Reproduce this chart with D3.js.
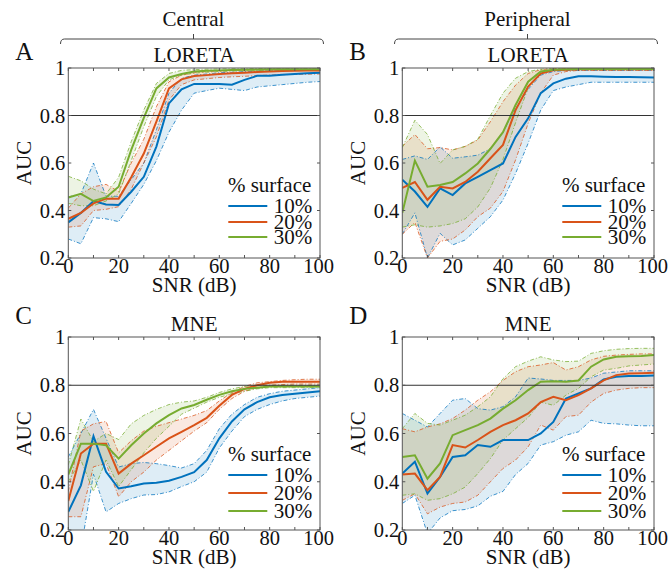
<!DOCTYPE html>
<html>
<head>
<meta charset="utf-8">
<script src="https://cdn.jsdelivr.net/npm/d3@7"></script>
<style>
  body { margin: 0; background: #fff; }
</style>
</head>
<body>
<div id="chart"></div>
<script>
// SNR sampled every 5 dB
const snr = d3.range(0, 101, 5);
const groups = ["10%", "20%", "30%"];
const colors = ["#0072BD", "#D95319", "#77AC30"];
const xTicks = d3.range(0, 101, 10);
const xLabels = [0, 20, 40, 60, 80, 100];
const yTicks = [0.2, 0.4, 0.6, 0.8, 1];

// A: LORETA central
const a10 = [0.35,0.39,0.44,0.425,0.423,0.479,0.542,0.669,0.851,0.91,0.933,0.933,0.933,0.93,0.95,0.967,0.967,0.972,0.975,0.978,0.98];
const a10lo = [0.28,0.26,0.37,0.365,0.353,0.43,0.51,0.61,0.73,0.823,0.894,0.905,0.915,0.91,0.905,0.92,0.925,0.93,0.935,0.94,0.943];
const a10hi = [0.457,0.47,0.6,0.46,0.46,0.53,0.6,0.74,0.894,0.957,0.97,0.975,0.98,0.982,0.985,0.987,0.988,0.989,0.99,0.99,0.99];
const a20 = [0.365,0.39,0.43,0.45,0.45,0.54,0.64,0.774,0.914,0.952,0.966,0.97,0.975,0.978,0.98,0.983,0.985,0.987,0.988,0.989,0.99];
const a20lo = [0.33,0.335,0.4,0.405,0.416,0.49,0.6,0.71,0.865,0.93,0.95,0.955,0.96,0.963,0.965,0.968,0.97,0.972,0.973,0.974,0.975];
const a20hi = [0.41,0.47,0.5,0.51,0.48,0.6,0.7,0.837,0.942,0.97,0.98,0.985,0.988,0.99,0.992,0.993,0.994,0.995,0.995,0.995,0.995];
const a30 = [0.455,0.47,0.44,0.455,0.5,0.655,0.79,0.914,0.96,0.975,0.985,0.988,0.99,0.992,0.993,0.994,0.995,0.995,0.995,0.995,0.995];
const a30lo = [0.43,0.42,0.42,0.44,0.47,0.61,0.753,0.88,0.95,0.97,0.978,0.982,0.985,0.987,0.988,0.989,0.99,0.99,0.99,0.99,0.99];
const a30hi = [0.544,0.525,0.49,0.47,0.54,0.69,0.823,0.935,0.977,0.99,0.993,0.995,0.996,0.997,0.997,0.998,0.998,0.998,0.998,0.998,0.998];

// B: LORETA peripheral
const b10 = [0.53,0.48,0.415,0.493,0.465,0.514,0.542,0.57,0.598,0.71,0.788,0.894,0.935,0.955,0.965,0.965,0.963,0.962,0.962,0.961,0.96];
const b10lo = [0.3,0.39,0.2,0.304,0.255,0.276,0.325,0.374,0.444,0.556,0.683,0.823,0.905,0.92,0.93,0.94,0.94,0.94,0.94,0.94,0.94];
const b10hi = [0.615,0.63,0.615,0.668,0.62,0.626,0.633,0.66,0.73,0.83,0.91,0.97,0.985,0.99,0.99,0.99,0.99,0.99,0.99,0.99,0.99];
const b20 = [0.495,0.52,0.445,0.5,0.493,0.52,0.563,0.62,0.676,0.823,0.922,0.977,0.99,0.993,0.995,0.995,0.995,0.995,0.995,0.995,0.995];
const b20lo = [0.3,0.35,0.2,0.27,0.28,0.318,0.374,0.41,0.48,0.613,0.767,0.894,0.97,0.985,0.99,0.99,0.99,0.99,0.99,0.99,0.99];
const b20hi = [0.67,0.72,0.66,0.665,0.655,0.67,0.697,0.774,0.858,0.928,0.977,0.993,0.998,0.998,0.998,0.998,0.998,0.998,0.998,0.998,0.998];
const b30 = [0.39,0.61,0.5,0.507,0.52,0.556,0.598,0.66,0.73,0.844,0.942,0.985,0.993,0.995,0.996,0.996,0.996,0.996,0.996,0.996,0.996];
const b30lo = [0.33,0.34,0.33,0.335,0.345,0.365,0.415,0.495,0.615,0.77,0.917,0.975,0.99,0.992,0.993,0.993,0.993,0.993,0.993,0.993,0.993];
const b30hi = [0.665,0.78,0.72,0.598,0.655,0.67,0.7,0.8,0.894,0.957,0.985,0.995,0.998,0.999,0.999,0.999,0.999,0.999,0.999,0.999,0.999];

// C: MNE central
const c10 = [0.275,0.385,0.589,0.441,0.372,0.381,0.393,0.396,0.404,0.42,0.44,0.49,0.58,0.65,0.7,0.73,0.75,0.76,0.765,0.77,0.775];
const c10lo = [0.206,0.12,0.431,0.275,0.31,0.33,0.345,0.347,0.358,0.38,0.4,0.44,0.54,0.61,0.67,0.7,0.72,0.735,0.745,0.75,0.755];
const c10hi = [0.503,0.6,0.7,0.58,0.461,0.475,0.48,0.475,0.467,0.457,0.475,0.53,0.62,0.68,0.72,0.75,0.765,0.775,0.78,0.785,0.79];
const c20 = [0.32,0.517,0.558,0.558,0.434,0.475,0.51,0.545,0.58,0.607,0.635,0.665,0.715,0.76,0.785,0.8,0.81,0.815,0.815,0.815,0.815];
const c20lo = [0.255,0.255,0.462,0.475,0.338,0.4,0.44,0.49,0.53,0.57,0.61,0.645,0.7,0.745,0.775,0.79,0.8,0.803,0.805,0.805,0.805];
const c20hi = [0.36,0.61,0.64,0.65,0.52,0.57,0.61,0.63,0.645,0.66,0.675,0.695,0.735,0.77,0.795,0.81,0.815,0.82,0.823,0.825,0.825];
const c30 = [0.43,0.558,0.558,0.551,0.496,0.551,0.6,0.642,0.676,0.704,0.718,0.74,0.76,0.775,0.785,0.79,0.795,0.795,0.795,0.795,0.795];
const c30lo = [0.4,0.49,0.36,0.49,0.38,0.45,0.52,0.58,0.63,0.68,0.705,0.73,0.75,0.765,0.775,0.785,0.79,0.79,0.79,0.79,0.79];
const c30hi = [0.47,0.66,0.567,0.6,0.575,0.64,0.675,0.7,0.72,0.73,0.735,0.75,0.77,0.785,0.795,0.8,0.8,0.8,0.8,0.8,0.8];

// D: MNE peripheral
const d10 = [0.434,0.483,0.351,0.42,0.503,0.51,0.552,0.545,0.573,0.573,0.573,0.6,0.648,0.745,0.766,0.787,0.824,0.835,0.838,0.838,0.84];
const d10lo = [0.31,0.344,0.185,0.25,0.28,0.285,0.3,0.34,0.36,0.43,0.476,0.552,0.566,0.593,0.607,0.655,0.642,0.64,0.635,0.632,0.632];
const d10hi = [0.683,0.655,0.627,0.683,0.738,0.745,0.703,0.697,0.711,0.752,0.83,0.826,0.82,0.82,0.82,0.83,0.85,0.855,0.86,0.86,0.86];
const d20 = [0.43,0.434,0.365,0.42,0.552,0.542,0.573,0.607,0.635,0.655,0.683,0.73,0.752,0.738,0.759,0.787,0.82,0.842,0.849,0.85,0.852];
const d20lo = [0.323,0.35,0.267,0.295,0.31,0.316,0.344,0.4,0.455,0.49,0.545,0.635,0.614,0.67,0.676,0.73,0.766,0.78,0.787,0.79,0.79];
const d20hi = [0.62,0.607,0.627,0.64,0.662,0.697,0.738,0.773,0.82,0.856,0.877,0.884,0.894,0.863,0.877,0.905,0.92,0.925,0.928,0.93,0.93];
const d30 = [0.503,0.51,0.413,0.476,0.593,0.614,0.635,0.662,0.703,0.738,0.78,0.815,0.817,0.815,0.82,0.877,0.907,0.918,0.92,0.921,0.925];
const d30lo = [0.344,0.35,0.323,0.33,0.35,0.378,0.434,0.496,0.573,0.62,0.666,0.73,0.717,0.759,0.787,0.835,0.863,0.87,0.88,0.884,0.888];
const d30hi = [0.62,0.683,0.642,0.635,0.655,0.676,0.711,0.752,0.827,0.877,0.9,0.918,0.905,0.898,0.9,0.932,0.943,0.949,0.952,0.953,0.953];

const panels = [
  { letter: "A", title: "LORETA", left: 68.3, top: 68, bottom: 258, letterY: 60, mean: [a10, a20, a30], lo: [a10lo, a20lo, a30lo], hi: [a10hi, a20hi, a30hi], legY: [192, 206, 222, 237] },
  { letter: "B", title: "LORETA", left: 402.3, top: 68, bottom: 258, letterY: 60, mean: [b10, b20, b30], lo: [b10lo, b20lo, b30lo], hi: [b10hi, b20hi, b30hi], legY: [192, 206, 222, 237] },
  { letter: "C", title: "MNE", left: 68.3, top: 337, bottom: 530, letterY: 324, mean: [c10, c20, c30], lo: [c10lo, c20lo, c30lo], hi: [c10hi, c20hi, c30hi], legY: [461, 475, 493, 511] },
  { letter: "D", title: "MNE", left: 402.3, top: 337, bottom: 530, letterY: 324, mean: [d10, d20, d30], lo: [d10lo, d20lo, d30lo], hi: [d10hi, d20hi, d30hi], legY: [461, 475, 493, 511] }
];
const plotW = 251.7;
const serif = "'Liberation Serif', 'Times New Roman', Times, serif";

const svg = d3.select("#chart").append("svg")
  .attr("width", 668)
  .attr("height", 571)
  .attr("font-family", serif)
  .style("font-family", serif);

function label(sel, size) {
  return sel.attr("font-family", serif)
    .style("font-family", serif)
    .style("font-size", size + "px")
    .attr("fill", "#111");
}

// column headers with brackets
[{ label: "Central", cx: 193.5 }, { label: "Peripheral", cx: 527.5 }].forEach(h => {
  label(svg.append("text"), 21)
    .attr("x", h.cx).attr("y", 26)
    .attr("text-anchor", "middle")
    .text(h.label);
  const x0 = h.cx - 133, x1 = h.cx + 130;
  svg.append("path")
    .attr("d", `M${x0},44 Q${x0},39 ${x0 + 4},39 L${x1 - 4},39 Q${x1},39 ${x1},44 M${h.cx},39 L${h.cx},34`)
    .attr("fill", "none")
    .attr("stroke", "#444")
    .attr("stroke-width", 1);
});

panels.forEach((p, pi) => {
  const x = d3.scaleLinear().domain([0, 100]).range([p.left, p.left + plotW]);
  const y = d3.scaleLinear().domain([0.2, 1]).range([p.bottom, p.top]);
  const cx = p.left + plotW / 2;
  const g = svg.append("g");

  const clipId = "clip" + pi;
  svg.append("clipPath").attr("id", clipId)
    .append("rect")
    .attr("x", p.left).attr("y", p.top)
    .attr("width", plotW).attr("height", p.bottom - p.top);

  const plot = g.append("g").attr("clip-path", `url(#${clipId})`);

  const area = d3.area()
    .x((d, i) => x(snr[i]))
    .y0(d => y(d[0]))
    .y1(d => y(d[1]));
  const line = d3.line()
    .x((d, i) => x(snr[i]))
    .y(d => y(d));

  // shaded bands
  groups.forEach((grp, k) => {
    const band = p.lo[k].map((v, i) => [v, p.hi[k][i]]);
    plot.append("path")
      .attr("d", area(band))
      .attr("fill", colors[k])
      .attr("fill-opacity", 0.13)
      .attr("stroke", "none");
  });
  // dash-dot band edges
  groups.forEach((grp, k) => {
    [p.lo[k], p.hi[k]].forEach(arr => {
      plot.append("path")
        .attr("d", line(arr))
        .attr("fill", "none")
        .attr("stroke", colors[k])
        .attr("stroke-opacity", 0.75)
        .attr("stroke-width", 1)
        .attr("stroke-dasharray", "4,2,1,2");
    });
  });

  // 0.8 reference line
  g.append("line")
    .attr("x1", x(0)).attr("x2", x(100))
    .attr("y1", y(0.8)).attr("y2", y(0.8))
    .attr("stroke", "#333")
    .attr("stroke-width", 1);

  // mean lines
  groups.forEach((grp, k) => {
    plot.append("path")
      .attr("d", line(p.mean[k]))
      .attr("fill", "none")
      .attr("stroke", colors[k])
      .attr("stroke-width", 2);
  });

  // box and inward ticks
  g.append("rect")
    .attr("x", p.left).attr("y", p.top)
    .attr("width", plotW).attr("height", p.bottom - p.top)
    .attr("fill", "none")
    .attr("stroke", "#555")
    .attr("stroke-width", 1);
  xTicks.forEach(t => {
    g.append("line").attr("x1", x(t)).attr("x2", x(t))
      .attr("y1", p.bottom).attr("y2", p.bottom - 3).attr("stroke", "#555");
    g.append("line").attr("x1", x(t)).attr("x2", x(t))
      .attr("y1", p.top).attr("y2", p.top + 3).attr("stroke", "#555");
  });
  yTicks.forEach(t => {
    g.append("line").attr("x1", p.left).attr("x2", p.left + 3)
      .attr("y1", y(t)).attr("y2", y(t)).attr("stroke", "#555");
    g.append("line").attr("x1", p.left + plotW).attr("x2", p.left + plotW - 3)
      .attr("y1", y(t)).attr("y2", y(t)).attr("stroke", "#555");
  });

  // tick labels
  xLabels.forEach(d => {
    label(g.append("text"), 20.5)
      .attr("x", x(d) - (d === 100 ? 1.5 : 0)).attr("y", p.bottom + 15)
      .attr("text-anchor", "middle")
      .text(d);
  });
  yTicks.forEach(d => {
    label(g.append("text"), 20.5)
      .attr("x", p.left - 3).attr("y", y(d) + 7)
      .attr("text-anchor", "end")
      .text(d);
  });

  // axis labels, titles
  label(g.append("text"), 21)
    .attr("transform", `translate(${p.left - 37},${(p.top + p.bottom) / 2}) rotate(-90)`)
    .attr("text-anchor", "middle")
    .text("AUC");
  label(g.append("text"), 21)
    .attr("x", cx).attr("y", p.bottom + 34)
    .attr("text-anchor", "middle")
    .text("SNR (dB)");
  label(g.append("text"), 21)
    .attr("x", cx).attr("y", p.top - 6)
    .attr("text-anchor", "middle")
    .text(p.title);
  label(g.append("text"), 25)
    .attr("x", p.left - 53).attr("y", p.letterY)
    .text(p.letter);

  // legend
  const lx = p.left + 160;
  label(g.append("text"), 21)
    .attr("x", p.left + 243).attr("y", p.legY[0])
    .attr("text-anchor", "end")
    .text("% surface");
  groups.forEach((grp, k) => {
    const ly = p.legY[k + 1];
    g.append("line")
      .attr("x1", lx).attr("x2", lx + 39)
      .attr("y1", ly).attr("y2", ly)
      .attr("stroke", colors[k])
      .attr("stroke-width", 2);
    label(g.append("text"), 21)
      .attr("x", p.left + 244).attr("y", ly + 7)
      .attr("text-anchor", "end")
      .text(grp);
  });
});
</script>
</body>
</html>
